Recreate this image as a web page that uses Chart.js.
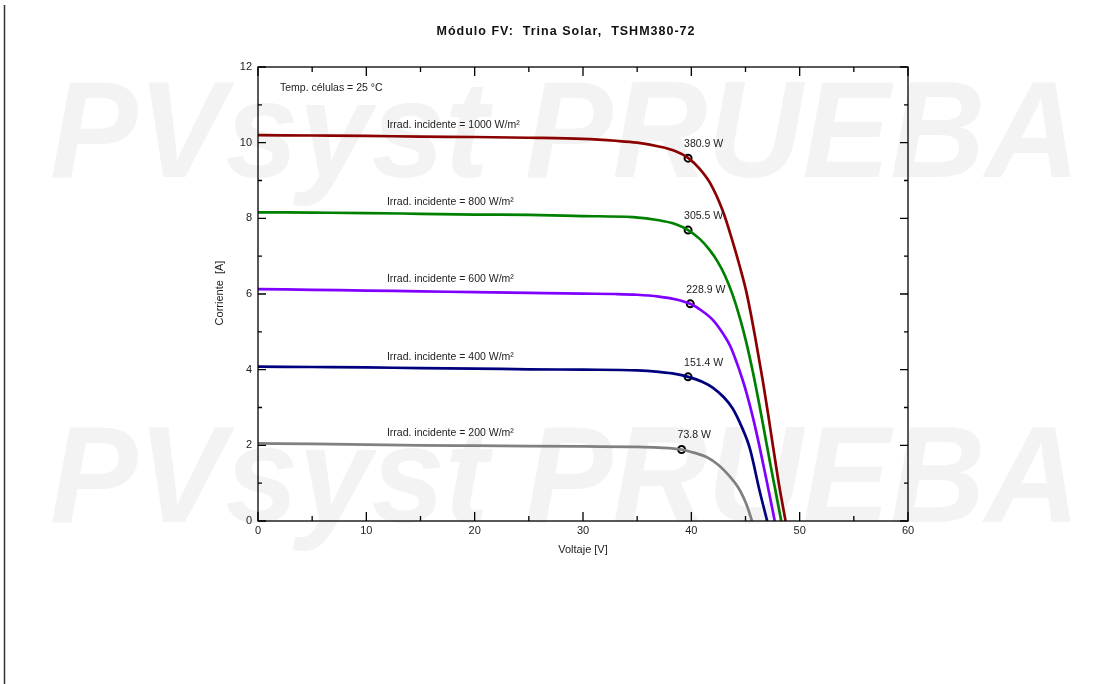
<!DOCTYPE html>
<html>
<head>
<meta charset="utf-8">
<script src="https://cdn.jsdelivr.net/npm/chart.js@4.4.1/dist/chart.umd.min.js"></script>
<style>
    html, body { margin: 0; padding: 0; background: #fff; }
    canvas { display: block; }
</style>
</head>
<body>
<canvas id="ivChart" width="1108" height="684"></canvas>
<script>
// I-V curves
const v1000 = [0, 5, 10, 15, 20, 25, 30, 33, 35, 37, 38.5, 39.7, 40.8, 41.7, 42.9, 43.8, 44.5, 45.1, 45.9, 46.6, 47.1, 47.5, 48.1, 48.7];
const i1000 = [10.2, 10.19, 10.18, 10.16, 10.15, 10.13, 10.1, 10.05, 10.0, 9.9, 9.78, 9.6, 9.3, 8.95, 8.2, 7.4, 6.7, 6.03, 4.85, 3.7, 2.8, 2.05, 0.95, 0];

const v800 = [0, 5, 10, 15, 20, 25, 30, 34.6, 37, 38.5, 39.7, 40.8, 41.7, 42.4, 43.1, 43.8, 44.5, 45.1, 45.7, 46.3, 46.9, 47.3, 47.8, 48.3];
const i800 = [8.16, 8.15, 8.14, 8.12, 8.1, 8.09, 8.06, 8.03, 7.95, 7.85, 7.69, 7.45, 7.16, 6.87, 6.49, 5.99, 5.35, 4.69, 3.91, 3.04, 2.11, 1.49, 0.75, 0];

const v600 = [0, 5, 10, 15, 20, 25, 30, 33, 35, 37, 38.5, 39.9, 41, 42, 43, 43.6, 44.2, 44.7, 45.1, 45.7, 46.3, 47, 47.7];
const i600 = [6.13, 6.11, 6.09, 6.07, 6.05, 6.03, 6.01, 6.0, 5.98, 5.93, 5.86, 5.74, 5.55, 5.31, 4.92, 4.62, 4.18, 3.76, 3.38, 2.72, 1.96, 1.0, 0];

const v400 = [0, 5, 10, 15, 20, 25, 30, 35, 37, 38.5, 39.7, 41, 42, 43, 43.8, 44.6, 45.4, 46.3, 47.0];
const i400 = [4.08, 4.07, 4.06, 4.04, 4.03, 4.01, 4.0, 3.98, 3.94, 3.89, 3.81, 3.68, 3.52, 3.27, 2.98, 2.52, 1.92, 0.8, 0];

const v200 = [0, 5, 10, 15, 20, 25, 30, 35, 37, 39.1, 40.3, 41.4, 42.5, 43.6, 44.3, 44.8, 45.2, 45.6];
const i200 = [2.05, 2.04, 2.02, 2.0, 1.99, 1.98, 1.97, 1.96, 1.94, 1.89, 1.8, 1.69, 1.48, 1.16, 0.9, 0.63, 0.35, 0];

// maximum power points
const mppV = [39.7, 39.7, 39.9, 39.7, 39.1];
const mppI = [9.59, 7.69, 5.74, 3.81, 1.89];
const mppLabels = ['380.9 W', '305.5 W', '228.9 W', '151.4 W', '73.8 W'];

const irradLabels = ['Irrad. incidente = 1000 W/m²', 'Irrad. incidente = 800 W/m²', 'Irrad. incidente = 600 W/m²', 'Irrad. incidente = 400 W/m²', 'Irrad. incidente = 200 W/m²'];
const iscValues = [10.2, 8.16, 6.13, 4.08, 2.05];
const curveColors = ['#8b0000', '#008000', '#8000ff', '#00007f', '#808080'];

const xTicks = [0, 10, 20, 30, 40, 50, 60];
const yTicks = [0, 2, 4, 6, 8, 10, 12];

const FONT = '"Liberation Sans", Arial, sans-serif';

function toPoints(vs, is) {
    return vs.map((v, k) => ({ x: v, y: is[k] }));
}

const curves = [[v1000, i1000], [v800, i800], [v600, i600], [v400, i400], [v200, i200]];

const datasets = curves.map((c, k) => ({
    data: toPoints(c[0], c[1]),
    borderColor: curveColors[k],
    borderWidth: 2.7,
    pointRadius: 0,
    cubicInterpolationMode: 'monotone',
    fill: false
}));

datasets.push({
    data: toPoints(mppV, mppI),
    showLine: false,
    pointRadius: 3.5,
    pointBorderWidth: 2,
    pointBorderColor: '#000',
    pointBackgroundColor: '#fff'
});

const pagePlugin = {
    id: 'page',
    beforeDraw(chart) {
        const ctx = chart.ctx;
        ctx.save();
        ctx.fillStyle = '#fff';
        ctx.fillRect(0, 0, chart.width, chart.height);

        // watermark
        ctx.fillStyle = '#f3f3f3';
        ctx.font = 'italic bold 100px ' + FONT;
        const w = ctx.measureText('PVsyst PRUEBA').width;
        [177, 522].forEach(base => {
            ctx.save();
            ctx.translate(50, base);
            ctx.scale(1030 / w, 1.38);
            ctx.textBaseline = 'alphabetic';
            ctx.fillText('PVsyst PRUEBA', 0, 0);
            ctx.restore();
        });

        // page edge line
        ctx.strokeStyle = '#333';
        ctx.lineWidth = 1.5;
        ctx.beginPath();
        ctx.moveTo(4.5, 5);
        ctx.lineTo(4.5, 684);
        ctx.stroke();
        ctx.restore();
    },
    afterDraw(chart) {
        const ctx = chart.ctx;
        const a = chart.chartArea;
        const xs = chart.scales.x;
        const ys = chart.scales.y;
        ctx.save();

        // frame and inward ticks
        ctx.strokeStyle = '#000';
        ctx.lineWidth = 1.3;
        ctx.strokeRect(a.left, a.top, a.right - a.left, a.bottom - a.top);
        ctx.beginPath();
        for (let v = 0; v <= 60; v += 5) {
            const px = xs.getPixelForValue(v);
            const len = v % 10 === 0 ? 9 : 5;
            ctx.moveTo(px, a.bottom); ctx.lineTo(px, a.bottom - len);
            ctx.moveTo(px, a.top); ctx.lineTo(px, a.top + len);
        }
        for (let v = 0; v <= 12; v += 1) {
            const py = ys.getPixelForValue(v);
            const len = v % 2 === 0 ? 8 : 4;
            ctx.moveTo(a.left, py); ctx.lineTo(a.left + len, py);
            ctx.moveTo(a.right, py); ctx.lineTo(a.right - len, py);
        }
        ctx.stroke();

        // title
        ctx.fillStyle = '#111';
        ctx.font = 'bold 12.5px ' + FONT;
        ctx.textAlign = 'center';
        ctx.textBaseline = 'middle';
        ctx.letterSpacing = '1px';
        ctx.fillText('Módulo FV:  Trina Solar,  TSHM380-72', 566, 32);
        ctx.letterSpacing = '0px';

        // axis titles
        ctx.font = '11px ' + FONT;
        ctx.fillStyle = '#222';
        ctx.fillText('Voltaje [V]', (a.left + a.right) / 2, 550);
        ctx.save();
        ctx.translate(220, 293);
        ctx.rotate(-Math.PI / 2);
        ctx.fillText('Corriente  [A]', 0, 0);
        ctx.restore();

        // annotations
        ctx.textAlign = 'left';
        ctx.font = '10.5px ' + FONT;
        ctx.fillText('Temp. células = 25 °C', 280, 88);
        irradLabels.forEach((t, k) => {
            ctx.fillText(t, xs.getPixelForValue(11.9), ys.getPixelForValue(iscValues[k]) - 10);
        });
        mppLabels.forEach((t, k) => {
            ctx.fillText(t, xs.getPixelForValue(mppV[k]) - 4, ys.getPixelForValue(mppI[k]) - 14);
        });
        ctx.restore();
    }
};

new Chart(document.getElementById('ivChart').getContext('2d'), {
    type: 'line',
    data: { datasets: datasets },
    options: {
        responsive: false,
        animation: false,
        layout: { padding: { left: 230, right: 200, top: 67, bottom: 133 } },
        plugins: {
            legend: { display: false },
            tooltip: { enabled: false }
        },
        scales: {
            x: {
                type: 'linear',
                min: 0,
                max: 60,
                afterBuildTicks: s => { s.ticks = xTicks.map(v => ({ value: v })); },
                afterFit: s => { s.height = 30; },
                ticks: { padding: 3, color: '#222', font: { family: FONT, size: 11 }, maxRotation: 0 },
                grid: { display: false, drawTicks: false },
                border: { display: false }
            },
            y: {
                type: 'linear',
                min: 0,
                max: 12,
                afterBuildTicks: s => { s.ticks = yTicks.map(v => ({ value: v })); },
                afterFit: s => { s.width = 28; },
                ticks: { padding: 6, color: '#222', font: { family: FONT, size: 11 } },
                grid: { display: false, drawTicks: false },
                border: { display: false }
            }
        }
    },
    plugins: [pagePlugin]
});
</script>
</body>
</html>
